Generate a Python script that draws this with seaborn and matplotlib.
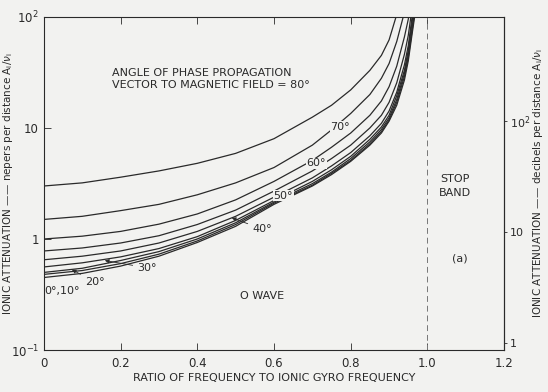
import pandas as pd
import seaborn as sns
import matplotlib.pyplot as plt

# frequency ratio grid shared by all curves (each curve stops once it leaves the top)
ratio = [0, 0.1, 0.2, 0.3, 0.4, 0.5, 0.6, 0.7, 0.75, 0.8, 0.85, 0.88, 0.9, 0.92, 0.94, 0.95, 0.96, 0.97]

# ionic attenuation, nepers per distance
att_80 = [3.0, 3.2, 3.6, 4.1, 4.8, 5.9, 8.0, 12.5, 16, 22, 33, 45, 62, 105]
att_70 = [1.5, 1.6, 1.8, 2.05, 2.5, 3.2, 4.4, 7.0, 9.6, 13.5, 20, 28, 38, 60, 110]
att_60 = [1.0, 1.06, 1.17, 1.36, 1.68, 2.25, 3.3, 5.1, 6.7, 9.0, 13, 17.5, 23.5, 36, 66, 95, 150]
att_50 = [0.78, 0.83, 0.92, 1.07, 1.35, 1.82, 2.7, 4.1, 5.3, 7.0, 10, 13, 17, 25.5, 46, 68, 120]
att_40 = [0.65, 0.70, 0.78, 0.92, 1.17, 1.6, 2.38, 3.55, 4.55, 6.0, 8.5, 11, 14.2, 21, 37, 55, 100, 160]
att_30 = [0.56, 0.61, 0.69, 0.82, 1.05, 1.47, 2.22, 3.3, 4.2, 5.55, 7.9, 10.2, 13, 19.5, 33, 50, 90, 150]
att_20 = [0.50, 0.545, 0.64, 0.77, 1.0, 1.4, 2.15, 3.15, 4.0, 5.3, 7.5, 9.7, 12.3, 18, 31, 46, 80, 140]
att_10 = [0.48, 0.52, 0.60, 0.73, 0.96, 1.35, 2.1, 3.05, 3.9, 5.1, 7.2, 9.3, 11.8, 17, 29, 43, 75, 130]
att_0 = [0.45, 0.49, 0.57, 0.70, 0.93, 1.3, 2.05, 3.0, 3.8, 5.0, 7.0, 9.0, 11.5, 16, 27, 40, 70, 120]

curves = {80: att_80, 70: att_70, 60: att_60, 50: att_50, 40: att_40,
          30: att_30, 20: att_20, 10: att_10, 0: att_0}

rows = []
for ang, vals in curves.items():
    for r, v in zip(ratio, vals):
        rows.append({"angle": ang, "ratio": r, "atten": v})
df = pd.DataFrame(rows)

sns.set_style("ticks")
plt.rcParams["font.family"] = ["DejaVu Sans"]
narrow = ["Liberation Sans Narrow", "DejaVu Sans"]
bg = "#f2f2f0"
ink = "#2a2a2a"

fig = plt.figure(figsize=(5.48, 3.92), dpi=100, facecolor=bg)
ax = fig.add_axes([0.080, 0.107, 0.840, 0.850], facecolor=bg)

sns.lineplot(data=df, x="ratio", y="atten", units="angle", estimator=None,
             color=ink, lw=0.9, ax=ax, legend=False)

ax.set_yscale("log")
ax.set_xlim(0, 1.2)
ax.set_ylim(0.1, 100)
ax.axvline(1.0, color="#777777", lw=0.7, ls=(0, (6, 4)))

ax.set_xticks([0, 0.2, 0.4, 0.6, 0.8, 1.0, 1.2])
ax.set_xticklabels(["0", "0.2", "0.4", "0.6", "0.8", "1.0", "1.2"])
ax.set_yticks([0.1, 1, 10, 100])
ax.set_yticklabels(["10$^{-1}$", "1", "10", "10$^{2}$"])
ax.minorticks_off()
ax.tick_params(direction="in", length=5, width=0.6, color=ink, labelsize=8.5,
               labelcolor=ink, top=True)
ax.tick_params(axis="x", pad=5)
for s in ax.spines.values():
    s.set_color(ink)
    s.set_linewidth(0.8)

ax.set_xlabel("RATIO OF FREQUENCY TO IONIC GYRO FREQUENCY", fontsize=8, color=ink,
              family=narrow, labelpad=2)
ax.set_ylabel("IONIC ATTENUATION —— nepers per distance A$_{\\mathrm{i}}$/$\\nu_{\\mathrm{i}}$",
              fontsize=7.5, color=ink, family=narrow)
ax.yaxis.set_label_coords(-0.063, 0.5)

sec = ax.secondary_yaxis("right", functions=(lambda n: n * 8.686, lambda d: d / 8.686))
sec.set_yticks([1, 10, 100])
sec.set_yticklabels(["1", "10", "10$^{2}$"])
sec.minorticks_off()
sec.tick_params(direction="out", length=2.5, width=0.6, pad=1.5, color=ink,
                labelsize=8, labelcolor=ink)
sec.spines["right"].set_color(ink)
fig.text(0.982, 0.532,
         "IONIC ATTENUATION —— decibels per distance A$_{\\mathrm{i}}$/$\\nu_{\\mathrm{i}}$",
         rotation=90, ha="center", va="center", fontsize=7.5, color=ink, family=narrow)

txt = dict(fontsize=8, color=ink)
gap = dict(boxstyle="square,pad=0.05", fc=bg, ec="none")
ax.text(0.177, 27.5, "ANGLE OF PHASE PROPAGATION\nVECTOR TO MAGNETIC FIELD = 80°",
        ha="left", va="center", linespacing=1.3, **txt)
ax.text(0.772, 10.2, "70°", ha="center", va="center", bbox=gap, **txt)
ax.text(0.710, 4.8, "60°", ha="center", va="center", bbox=gap, **txt)
ax.text(0.624, 2.45, "50°", ha="center", va="center", bbox=gap, **txt)

arrow = dict(arrowstyle="-|>", color=ink, lw=0.6, mutation_scale=6, shrinkA=1, shrinkB=0)
ax.annotate("40°", xy=(0.49, 1.55), xytext=(0.569, 1.23), ha="center", va="center",
            arrowprops=arrow, **txt)
ax.annotate("30°", xy=(0.159, 0.64), xytext=(0.269, 0.55), ha="center", va="center",
            arrowprops=arrow, **txt)
ax.annotate("20°", xy=(0.073, 0.53), xytext=(0.133, 0.41), ha="center", va="center",
            arrowprops=arrow, **txt)
ax.text(0.047, 0.34, "0°,10°", ha="center", va="center", **txt)
ax.text(0.569, 0.306, "O WAVE", ha="center", va="center", **txt)
ax.text(1.072, 3.0, "STOP\nBAND", ha="center", va="center", linespacing=1.4, **txt)
ax.text(1.085, 0.67, "(a)", ha="center", va="center", **txt)

fig.savefig("out.png", dpi=100, facecolor=bg)
